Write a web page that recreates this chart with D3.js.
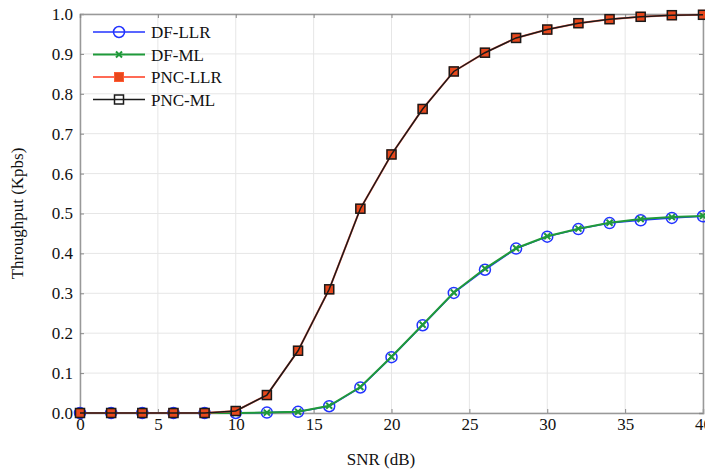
<!DOCTYPE html>
<html>
<head>
<meta charset="utf-8">
<script src="https://cdn.jsdelivr.net/npm/d3@7"></script>
<style>
  body { margin: 0; background: #fff; }
  svg text { font-family: "Liberation Serif", "Times New Roman", serif !important; fill: #111; }
</style>
</head>
<body>
<div id="chart"></div>
<script>
var snr = [0, 2, 4, 6, 8, 10, 12, 14, 16, 18, 20, 22, 24, 26, 28, 30, 32, 34, 36, 38, 40];
var dfLLR = [0, 0, 0, 0, 0, 0, 0.001, 0.003, 0.017, 0.064, 0.14, 0.22, 0.301, 0.359, 0.412, 0.442, 0.461, 0.476, 0.483, 0.489, 0.493];
var dfML = [0, 0, 0, 0, 0, 0, 0.001, 0.003, 0.018, 0.065, 0.141, 0.221, 0.302, 0.362, 0.413, 0.443, 0.462, 0.477, 0.486, 0.491, 0.494];
var pncLLR = [0, 0, 0, 0, 0, 0.005, 0.045, 0.156, 0.31, 0.512, 0.648, 0.762, 0.856, 0.903, 0.94, 0.961, 0.977, 0.987, 0.993, 0.997, 0.998];
var pncML = [0, 0, 0, 0, 0, 0.005, 0.045, 0.156, 0.31, 0.512, 0.648, 0.762, 0.856, 0.903, 0.94, 0.961, 0.977, 0.987, 0.993, 0.997, 0.998];
var xTicks = [0, 5, 10, 15, 20, 25, 30, 35, 40];
var yTicks = [0, 0.1, 0.2, 0.3, 0.4, 0.5, 0.6, 0.7, 0.8, 0.9, 1.0];

var svgWidth = 705, svgHeight = 473;
var margin = { top: 14, right: 2, bottom: 60, left: 80 };
var width = svgWidth - margin.left - margin.right;
var height = svgHeight - margin.top - margin.bottom;
var serif = "'Liberation Serif', 'Times New Roman', serif";

var svg = d3.select("#chart").append("svg")
  .attr("width", svgWidth)
  .attr("height", svgHeight)
  .attr("font-family", serif);

var g = svg.append("g")
  .attr("transform", `translate(${margin.left}, ${margin.top})`);

var x = d3.scaleLinear().domain([0, 40]).range([0, width]);
var y = d3.scaleLinear().domain([0, 1]).range([height, 0]);

// grid
g.append("g").selectAll("line").data(xTicks).enter().append("line")
  .attr("x1", d => x(d)).attr("x2", d => x(d))
  .attr("y1", 0).attr("y2", height)
  .attr("stroke", "#e6e6e6").attr("stroke-width", 1);
g.append("g").selectAll("line").data(yTicks).enter().append("line")
  .attr("y1", d => y(d)).attr("y2", d => y(d))
  .attr("x1", 0).attr("x2", width)
  .attr("stroke", "#e6e6e6").attr("stroke-width", 1);

// axes
var bottomAxis = d3.axisBottom(x).tickValues(xTicks).tickSize(-4).tickPadding(5).tickFormat(d3.format("d"));
var leftAxis = d3.axisLeft(y).tickValues(yTicks).tickSize(-4).tickPadding(7).tickFormat(d3.format(".1f"));
var topAxis = d3.axisTop(x).tickValues(xTicks).tickSize(-4).tickFormat("");
var rightAxis = d3.axisRight(y).tickValues(yTicks).tickSize(-4).tickFormat("");

function styleAxis(sel) {
  sel.attr("font-family", serif).attr("font-size", 17);
  sel.select(".domain").attr("stroke", "#999").attr("stroke-width", 1.5);
  sel.selectAll(".tick line").attr("stroke", "#888");
  sel.selectAll("text").attr("fill", "#111");
}

g.append("g").attr("transform", `translate(0, ${height})`).call(bottomAxis).call(styleAxis);
g.append("g").call(leftAxis).call(styleAxis);
g.append("g").call(topAxis).call(styleAxis);
g.append("g").attr("transform", `translate(${width}, 0)`).call(rightAxis).call(styleAxis);

var series = [
  { name: "DF-LLR", values: dfLLR, color: "#2233ff", width: 1.5, marker: "circle" },
  { name: "DF-ML", values: dfML, color: "#1f9a3a", width: 2, marker: "x" },
  { name: "PNC-LLR", values: pncLLR, color: "#ff6a55", width: 2, marker: "fsquare" },
  { name: "PNC-ML", values: pncML, color: "#1a1a1a", width: 1.5, marker: "square" }
];

var line = d3.line().x((d, i) => x(snr[i])).y(d => y(d));

function drawMarker(sel, s, cx, cy) {
  if (s.marker === "circle") {
    sel.append("circle").attr("cx", cx).attr("cy", cy).attr("r", 5.5)
      .attr("fill", "none").attr("stroke", s.color).attr("stroke-width", 1.5);
  } else if (s.marker === "x") {
    sel.append("path")
      .attr("d", `M${cx - 3},${cy - 3}L${cx + 3},${cy + 3}M${cx - 3},${cy + 3}L${cx + 3},${cy - 3}`)
      .attr("stroke", s.color).attr("stroke-width", 2);
  } else if (s.marker === "fsquare") {
    sel.append("rect").attr("x", cx - 4.5).attr("y", cy - 4.5).attr("width", 9).attr("height", 9)
      .attr("fill", "#e8481c").attr("stroke", "#ff5a33").attr("stroke-width", 1);
  } else {
    sel.append("rect").attr("x", cx - 4.5).attr("y", cy - 4.5).attr("width", 9).attr("height", 9)
      .attr("fill", "none").attr("stroke", s.color).attr("stroke-width", 1.5);
  }
}

series.forEach(s => {
  g.append("path").datum(s.values)
    .attr("d", line)
    .attr("fill", "none")
    .attr("stroke", s.color)
    .attr("stroke-width", s.width);
  var mg = g.append("g");
  s.values.forEach((v, i) => drawMarker(mg, s, x(snr[i]), y(v)));
});

// legend
var legend = svg.append("g").attr("transform", "translate(93, 32)");
series.forEach((s, i) => {
  var ly = i * 22.5;
  legend.append("line").attr("x1", 0).attr("x2", 52).attr("y1", ly).attr("y2", ly)
    .attr("stroke", s.color).attr("stroke-width", s.width);
  drawMarker(legend, s, 26, ly);
  legend.append("text").attr("x", 58).attr("y", ly + 6)
    .attr("font-size", 17).text(s.name);
});

// axis titles
svg.append("text")
  .attr("x", 381).attr("y", 465)
  .attr("text-anchor", "middle").attr("font-size", 17)
  .text("SNR (dB)");
svg.append("text")
  .attr("transform", `translate(23, ${margin.top + height / 2}) rotate(-90)`)
  .attr("text-anchor", "middle").attr("font-size", 17)
  .text("Throughput (Kpbs)");
</script>
</body>
</html>
